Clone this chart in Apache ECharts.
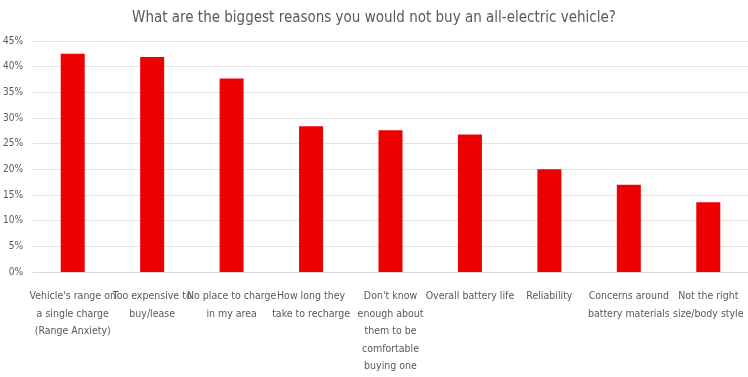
<!DOCTYPE html>
<html><head><meta charset="utf-8">
<script src="https://cdn.jsdelivr.net/npm/echarts@6/dist/echarts.min.js"></script>
<style>html,body{margin:0;padding:0;background:#fff}#c{width:748px;height:377px}</style>
</head><body><div id="c"></div>
<script>
const title = "What are the biggest reasons you would not buy an all-electric vehicle?";
const categories = [
  "Vehicle's range on\na single charge\n(Range Anxiety)",
  "Too expensive to\nbuy/lease",
  "No place to charge\nin my area",
  "How long they\ntake to recharge",
  "Don't know\nenough about\nthem to be\ncomfortable\nbuying one",
  "Overall battery life",
  "Reliability",
  "Concerns around\nbattery materials",
  "Not the right\nsize/body style"
];
const values = [42.5, 41.9, 37.7, 28.4, 27.6, 26.8, 20.0, 17.0, 13.6];
const yTicks = { min: 0, max: 45, interval: 5 };

const font = "'DejaVu Sans Condensed', Roboto, sans-serif";
const chart = echarts.init(document.getElementById('c'));
chart.setOption({
  animation: false,
  title: {
    text: title, left: 'center', top: 6,
    textStyle: { fontFamily: font, fontSize: 15, fontWeight: 'normal', color: '#595959' }
  },
  grid: { left: 33, right: 0, top: 41, bottom: 105 },
  xAxis: {
    type: 'category', data: categories,
    axisLine: { lineStyle: { color: '#d9d9d9' } },
    axisTick: { show: false },
    axisLabel: { interval: 0, color: '#595959', fontFamily: font, fontSize: 10.5, lineHeight: 17.5, margin: 16 }
  },
  yAxis: {
    type: 'value', min: yTicks.min, max: yTicks.max, interval: yTicks.interval,
    axisLabel: { formatter: v => v + '%', color: '#595959', fontFamily: font, fontSize: 10, margin: 10 },
    splitLine: { lineStyle: { color: '#e3e3e3' } },
    axisLine: { show: false }, axisTick: { show: false }
  },
  series: [{
    type: 'bar', data: values, barWidth: 24,
    itemStyle: { color: '#ee0000' }
  }]
});
</script></body></html>
